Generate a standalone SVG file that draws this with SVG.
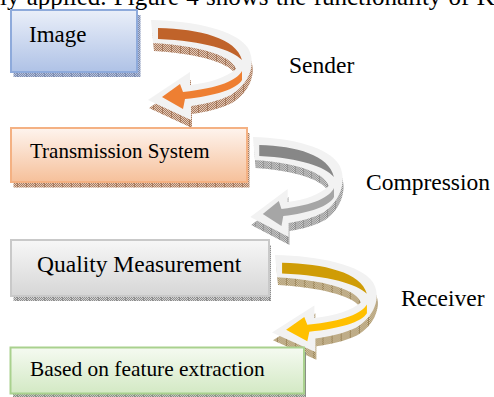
<svg xmlns="http://www.w3.org/2000/svg" xmlns:xlink="http://www.w3.org/1999/xlink" width="494" height="397" viewBox="0 0 494 397">
<style>
  text { font-family: "Liberation Serif", "Times New Roman", serif; fill: #000; }
  .box { stroke-width: 2; }
</style>
<defs>
  <linearGradient id="gBlue" x1="0" y1="0" x2="0" y2="1"><stop offset="0" stop-color="#eaeff9"/><stop offset="1" stop-color="#afc2e6"/></linearGradient>
  <linearGradient id="gOrange" x1="0" y1="0" x2="0" y2="1"><stop offset="0" stop-color="#fef4ee"/><stop offset="1" stop-color="#f6c09a"/></linearGradient>
  <linearGradient id="gGray" x1="0" y1="0" x2="0" y2="1"><stop offset="0" stop-color="#f7f7f7"/><stop offset="1" stop-color="#d6d6d6"/></linearGradient>
  <linearGradient id="gGreen" x1="0" y1="0" x2="0" y2="1"><stop offset="0" stop-color="#f5faf1"/><stop offset="1" stop-color="#d3e9c4"/></linearGradient>
  <pattern id="hBlue" width="9" height="2" patternUnits="userSpaceOnUse"><rect width="9" height="2" fill="#b7c1da"/><path d="M0,0h1v1h-1zM2,0h1v1h-1zM4,0h1v1h-1zM6,0h1v1h-1zM1,1h1v1h-1zM3,1h1v1h-1zM5,1h1v1h-1zM7,1h1v1h-1zM8,0h1v2h-1z" fill="#7d8db2"/></pattern>
  <pattern id="hBrown" width="9" height="2" patternUnits="userSpaceOnUse"><rect width="9" height="2" fill="#e2c7b6"/><path d="M0,0h1v1h-1zM2,0h1v1h-1zM4,0h1v1h-1zM6,0h1v1h-1zM1,1h1v1h-1zM3,1h1v1h-1zM5,1h1v1h-1zM7,1h1v1h-1zM8,0h1v2h-1z" fill="#a87b5e"/></pattern>
  <pattern id="hGray" width="9" height="2" patternUnits="userSpaceOnUse"><rect width="9" height="2" fill="#d2d2d2"/><path d="M0,0h1v1h-1zM2,0h1v1h-1zM4,0h1v1h-1zM6,0h1v1h-1zM1,1h1v1h-1zM3,1h1v1h-1zM5,1h1v1h-1zM7,1h1v1h-1zM8,0h1v2h-1z" fill="#8e8e8e"/></pattern>
  <pattern id="hTan" width="9" height="2" patternUnits="userSpaceOnUse"><rect width="9" height="2" fill="#e2d4b6"/><path d="M0,0h1v1h-1zM2,0h1v1h-1zM4,0h1v1h-1zM6,0h1v1h-1zM1,1h1v1h-1zM3,1h1v1h-1zM5,1h1v1h-1zM7,1h1v1h-1zM8,0h1v2h-1z" fill="#9c865a"/></pattern>
  <pattern id="hGreen" width="9" height="2" patternUnits="userSpaceOnUse"><rect width="9" height="2" fill="#c5cac2"/><path d="M0,0h1v1h-1zM2,0h1v1h-1zM4,0h1v1h-1zM6,0h1v1h-1zM1,1h1v1h-1zM3,1h1v1h-1zM5,1h1v1h-1zM7,1h1v1h-1zM8,0h1v2h-1z" fill="#899085"/></pattern>
  <path id="aw" d="M151,20 C195,21 236,30 248,48 C257,64 249,84 231,95 C219,101 205,104 191,106 L191,120 L148,100 L190,72 L190,85 C210,83 227,77 236,69 C233,59 212,47 153,43 Z"/>
  <path id="aTop" d="M158,28 C200,29 236,38 242,60 C232,50 205,41 158,39 Z"/>
  <path id="aBot" d="M242,71 C237,80 220,88 183,92 L180,84 L162,97 L183,109 L185,99 C215,96 237,89 242,80 Z"/>
</defs>
<rect width="494" height="397" fill="#fff"/>

<text x="0" y="5" font-size="25" word-spacing="1">ly applied. Figure 4 shows the functionality of K</text>

<g id="connectors">
  <g id="arrow-sender">
    <use xlink:href="#aw" transform="translate(1,8)" fill="url(#hBrown)"/>
    <use xlink:href="#aw" fill="#f2f2f2"/>
    <use xlink:href="#aTop" fill="#c0632a"/>
    <use xlink:href="#aBot" fill="#ee7f32"/>
  </g>
  <g id="arrow-compression" transform="translate(253,137) scale(0.89,1) translate(-151,-20)">
    <use xlink:href="#aw" transform="translate(1,8)" fill="url(#hGray)"/>
    <use xlink:href="#aw" fill="#f2f2f2"/>
    <use xlink:href="#aTop" fill="#878787"/>
    <use xlink:href="#aBot" fill="#a6a6a6"/>
  </g>
  <g id="arrow-receiver" transform="translate(275,255) scale(1.01,0.97) translate(-151,-20)">
    <use xlink:href="#aw" transform="translate(1,8)" fill="url(#hTan)"/>
    <use xlink:href="#aw" fill="#f2f2f2"/>
    <use xlink:href="#aTop" fill="#cf9c06"/>
    <use xlink:href="#aBot" fill="#ffc000"/>
  </g>
  <text x="289" y="73" font-size="23.5">Sender</text>
  <text x="366" y="190" font-size="23.5">Compression</text>
  <text x="401" y="306" font-size="23.5">Receiver</text>
</g>

<g id="node-image">
  <rect x="13.5" y="15" width="127" height="62" fill="url(#hBlue)"/>
  <rect class="box" x="11" y="10" width="126" height="62" fill="url(#gBlue)" stroke="#8eaadb"/>
  <text x="29" y="42" font-size="23">Image</text>
</g>
<g id="node-transmission">
  <rect x="13.5" y="133" width="236" height="54.5" fill="url(#hBrown)"/>
  <rect class="box" x="11" y="128" width="236" height="54" fill="url(#gOrange)" stroke="#f4b183"/>
  <text x="30" y="158" font-size="21">Transmission System</text>
</g>
<g id="node-quality">
  <rect x="13.5" y="245" width="257.5" height="56" fill="url(#hGray)"/>
  <rect class="box" x="11" y="240" width="258" height="56" fill="url(#gGray)" stroke="#c9c9c9"/>
  <text x="37" y="272" font-size="23.5">Quality Measurement</text>
</g>
<g id="node-feature">
  <rect x="13" y="352" width="293" height="45" fill="url(#hGreen)"/>
  <rect class="box" x="10.5" y="347.5" width="293.5" height="46" fill="url(#gGreen)" stroke="#a9d18e"/>
  <text x="30" y="376" font-size="21.4">Based on feature extraction</text>
</g>
</svg>
